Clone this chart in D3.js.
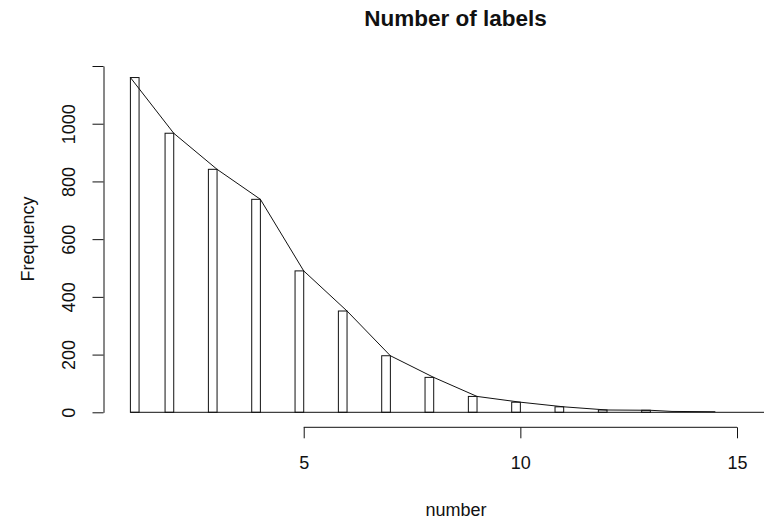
<!DOCTYPE html>
<html>
<head>
<meta charset="utf-8">
<script src="https://d3js.org/d3.v7.min.js"></script>
<style>
  body { margin: 0; background: #fff; }
  text { font-family: "Liberation Sans", Arial, sans-serif; fill: #111; }
</style>
</head>
<body>
<div id="container"></div>
<script>
// label counts (value of "number" -> frequency)
const numbers = [1, 2, 3, 4, 5, 6, 7, 8, 9, 10, 11, 12, 13];
const counts = [1160, 967, 842, 738, 490, 351, 196, 121, 55, 35, 19, 8, 7];
// overlay line (tail continues past the last bar)
const lineX = [1, 2, 3, 4, 5, 6, 7, 8, 9, 10, 11, 12, 13, 13.5, 14.5];
const lineY = [1160, 967, 842, 738, 490, 351, 196, 121, 55, 35, 19, 8, 7, 3, 2];
const xTicks = [5, 10, 15];
const yTicks = [0, 200, 400, 600, 800, 1000, 1200];
const yTickLabels = ['0', '200', '400', '600', '800', '1000', ''];

const w = 764, h = 520;
const binW = 0.2;

const xScale = d3.scaleLinear().domain([1, 15]).range([130.4, 737]);
const yScale = d3.scaleLinear().domain([0, 1200]).range([412.3, 66]);

const svg = d3.select('#container').append('svg')
  .attr('width', w).attr('height', h);

// bars: first bin [1,1.2], others (k-0.2, k]
svg.selectAll('rect.bar')
  .data(numbers)
  .enter()
  .append('rect')
  .attr('class', 'bar')
  .attr('x', (d) => d === 1 ? xScale(1) : xScale(d - binW))
  .attr('width', xScale(1 + binW) - xScale(1))
  .attr('y', (d, i) => yScale(counts[i]))
  .attr('height', (d, i) => yScale(0) - yScale(counts[i]))
  .attr('fill', '#fff')
  .attr('stroke', '#111')
  .attr('stroke-width', 1);

// baseline
svg.append('line')
  .attr('x1', xScale(1)).attr('x2', w)
  .attr('y1', yScale(0)).attr('y2', yScale(0))
  .attr('stroke', '#111');

// overlay line
const line = d3.line().x((d) => xScale(d[0])).y((d) => yScale(d[1]));
svg.append('path')
  .datum(lineX.map((x, i) => [x, lineY[i]]))
  .attr('d', line)
  .attr('fill', 'none')
  .attr('stroke', '#111')
  .attr('stroke-width', 1);

// x axis (only spans 5..15)
const xAxis = d3.axisBottom(xScale).tickValues(xTicks).tickSize(11).tickSizeOuter(0).tickFormat(d3.format('d'));
const gx = svg.append('g')
  .attr('id', 'x-axis')
  .attr('transform', 'translate(0,427.3)')
  .call(xAxis);
gx.select('.domain').remove();
gx.append('line')
  .attr('x1', xScale(xTicks[0])).attr('x2', xScale(xTicks[xTicks.length - 1]))
  .attr('stroke', '#111');
gx.selectAll('.tick line').attr('stroke', '#111');
gx.selectAll('.tick text')
  .attr('y', 0).attr('dy', null)
  .attr('transform', 'translate(0,42)')
  .style('font-size', '18px')
  .attr('fill', '#111');

// y axis
const yAxis = d3.axisLeft(yScale).tickValues(yTicks).tickSize(11).tickSizeOuter(0)
  .tickFormat((d, i) => yTickLabels[i]);
const gy = svg.append('g')
  .attr('id', 'y-axis')
  .attr('transform', 'translate(103.5,0)')
  .call(yAxis);
gy.select('.domain').attr('stroke', '#111');
gy.selectAll('.tick line').attr('stroke', '#111');
gy.selectAll('.tick text')
  .attr('x', null).attr('dy', null).attr('y', null)
  .attr('text-anchor', 'middle')
  .attr('transform', 'translate(-29,0) rotate(-90)')
  .style('font-size', '18px')
  .attr('fill', '#111');

// titles
svg.append('text')
  .attr('x', 455.5).attr('y', 26)
  .attr('text-anchor', 'middle')
  .style('font-size', '22.5px').style('font-weight', 'bold')
  .text('Number of labels');

svg.append('text')
  .attr('x', 456).attr('y', 516)
  .attr('text-anchor', 'middle')
  .style('font-size', '18px')
  .text('number');

svg.append('text')
  .attr('transform', 'translate(34,239) rotate(-90)')
  .attr('text-anchor', 'middle')
  .style('font-size', '18px')
  .text('Frequency');
</script>
</body>
</html>
